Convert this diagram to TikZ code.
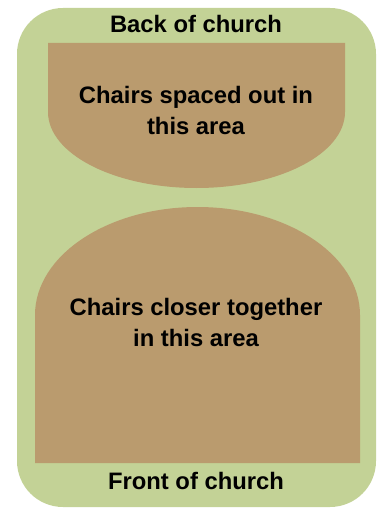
\documentclass[tikz,border=0pt]{standalone}
\usepackage{fontspec}
\setmainfont{Liberation Sans}
\definecolor{lawn}{HTML}{C3D296}
\definecolor{floor}{HTML}{BA9B6E}
\begin{document}
\begin{tikzpicture}[x=1pt,y=-1pt,
  lbl/.style={font=\bfseries\fontsize{23.8}{31}\selectfont, text=black, align=center, inner sep=0pt}]
\useasboundingbox (0,0) rectangle (382,508);
\fill[lawn, rounded corners=46pt] (17,8) rectangle (376,507);
% top seating area
\fill[floor] (48,43) -- (345,43) -- (345,112)
  arc[start angle=0, end angle=180, x radius=148.5, y radius=76] -- cycle;
% bottom seating area
\fill[floor] (35,463) -- (35,315)
  arc[start angle=180, end angle=360, x radius=162.5, y radius=108] -- (360,463) -- cycle;
\node[lbl] (back) at (196,24) {Back of church};
\node[lbl] (top) at (196,110) {Chairs spaced out in\\this area};
\node[lbl] (bottom) at (196,322) {Chairs closer together\\in this area};
\node[lbl] (front) at (196,481) {Front of church};
\end{tikzpicture}
\end{document}
